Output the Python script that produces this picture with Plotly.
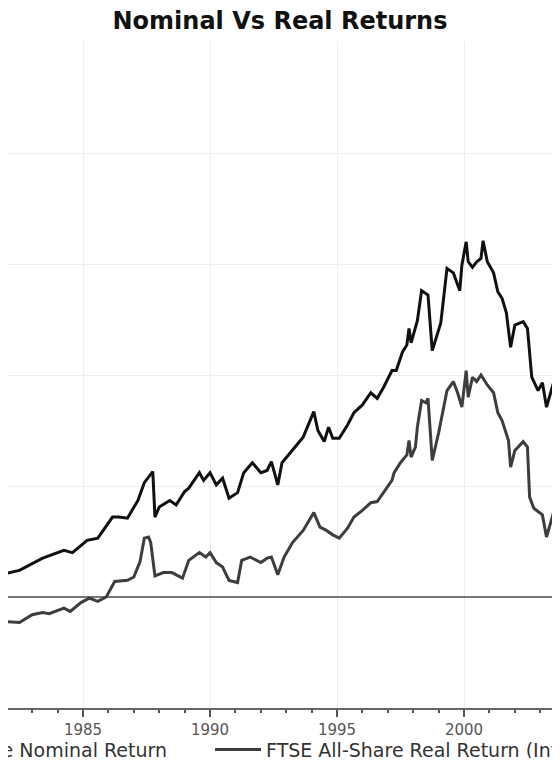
import plotly.graph_objects as go

# -------------------------
# DATA
# -------------------------

nominal_dates = [
    "1981-10", "1982-07", "1983-06", "1984-04", "1984-08", "1985-03", "1985-08",
    "1986-03", "1986-06", "1986-10", "1987-03", "1987-06", "1987-10", "1987-11",
    "1988-01", "1988-06", "1988-09", "1989-01", "1989-03", "1989-08", "1989-10",
    "1990-01", "1990-04", "1990-07", "1990-10", "1991-02", "1991-05", "1991-09",
    "1992-01", "1992-04", "1992-06", "1992-09", "1992-11", "1993-04", "1993-09",
    "1994-02", "1994-04", "1994-07", "1994-09", "1994-11", "1995-02", "1995-06",
    "1995-09", "1996-01", "1996-05", "1996-08", "1996-11", "1997-03", "1997-05",
    "1997-08", "1997-10", "1997-11", "1997-12", "1998-03", "1998-05", "1998-08",
    "1998-10", "1999-02", "1999-05", "1999-08", "1999-11", "1999-12", "2000-02",
    "2000-03", "2000-05", "2000-07", "2000-09", "2000-10", "2000-12", "2001-03",
    "2001-05", "2001-07", "2001-09", "2001-11", "2002-01", "2002-05", "2002-07",
    "2002-09", "2002-12", "2003-02", "2003-04", "2003-07", "2003-09", "2003-11",
    "2004-03",
]
nominal_values = [
    20, 24, 35, 42, 40, 51, 53,
    72, 72, 71, 87, 103, 113, 72,
    81, 87, 83, 95, 98, 112, 105,
    112, 101, 107, 89, 94, 112, 121,
    112, 114, 122, 101, 121, 132, 144,
    167, 150, 140, 153, 143, 143, 155,
    166, 173, 184, 179, 189, 204, 204,
    221, 227, 242, 229, 249, 276, 272,
    222, 247, 296, 292, 276, 299, 320,
    302, 297, 302, 305, 321, 302, 292,
    275, 269, 256, 225, 245, 248, 242,
    198, 186, 193, 171, 191, 202, 209,
    220,
]

real_dates = [
    "1981-10", "1982-04", "1982-07", "1983-01", "1983-06", "1983-09", "1984-04",
    "1984-07", "1984-12", "1985-04", "1985-08", "1985-12", "1986-04", "1986-10",
    "1987-01", "1987-04", "1987-06", "1987-08", "1987-09", "1987-11", "1988-03",
    "1988-07", "1988-12", "1989-03", "1989-08", "1989-11", "1990-01", "1990-04",
    "1990-07", "1990-10", "1991-02", "1991-04", "1991-08", "1992-01", "1992-04",
    "1992-06", "1992-09", "1992-12", "1993-04", "1993-09", "1994-02", "1994-05",
    "1994-08", "1994-11", "1995-02", "1995-06", "1995-09", "1996-01", "1996-05",
    "1996-08", "1996-11", "1997-01", "1997-03", "1997-04", "1997-07", "1997-10",
    "1997-11", "1997-12", "1998-02", "1998-03", "1998-05", "1998-07", "1998-08",
    "1998-10", "1999-01", "1999-05", "1999-08", "1999-10", "1999-12", "2000-02",
    "2000-03", "2000-05", "2000-07", "2000-09", "2000-12", "2001-03", "2001-05",
    "2001-07", "2001-10", "2001-11", "2002-01", "2002-05", "2002-07", "2002-08",
    "2002-10", "2003-02", "2003-04", "2003-07", "2003-09", "2003-11", "2004-03",
]
real_values = [
    -22, -23, -23, -16, -14, -15, -10,
    -13, -5, -1, -4, 0, 14, 15,
    18, 32, 53, 54, 49, 19, 22,
    22, 17, 33, 40, 36, 40, 31,
    27, 15, 13, 33, 36, 31, 35,
    36, 20, 36, 49, 60, 76, 63,
    60, 56, 53, 62, 72, 78, 85,
    86, 94, 99, 105, 112, 121, 128,
    141, 126, 135, 153, 177, 175, 179,
    123, 148, 186, 194, 184, 171, 204,
    180, 198, 194, 200, 191, 184, 166,
    159, 141, 117, 132, 140, 135, 90,
    80, 74, 54, 74, 90, 98, 105,
]

x_range = ["1982-01-18", "2003-10-12"]
y_range = [-100, 500]

# -------------------------
# FIGURE
# -------------------------

fig = go.Figure()
fig.add_trace(go.Scatter(
    x=nominal_dates, y=nominal_values, mode="lines",
    name="FTSE All-Share Nominal Return",
    line=dict(color="#111111", width=3),
    legend="legend",
))
fig.add_trace(go.Scatter(
    x=real_dates, y=real_values, mode="lines",
    name="FTSE All-Share Real Return (Inflation Adjusted)",
    line=dict(color="#3d3d3d", width=3),
    legend="legend2",
))

legend_font = dict(family="DejaVu Sans", size=19, color="#333333")

# the page body adds an 8px offset; keep the page short enough not to scroll
fig.update_layout(
    width=552,
    height=750,
    margin=dict(l=0, r=0, t=34, b=50, autoexpand=False),
    paper_bgcolor="white",
    plot_bgcolor="white",
    title=dict(
        text="<b>Nominal Vs Real Returns</b>",
        x=272 / 552, xanchor="center",
        y=1 - 13 / 750, yanchor="middle", yref="container",
        font=dict(family="DejaVu Sans", size=24, color="#111111"),
    ),
    showlegend=True,
    legend=dict(
        orientation="h",
        x=-0.341, xanchor="left",
        y=-0.034, yanchor="top",
        itemwidth=46,
        font=legend_font,
        bgcolor="rgba(0,0,0,0)",
    ),
    legend2=dict(
        orientation="h",
        x=0.366, xanchor="left",
        y=-0.034, yanchor="top",
        itemwidth=46,
        font=legend_font,
        bgcolor="rgba(0,0,0,0)",
    ),
)

fig.update_xaxes(
    type="date",
    range=x_range,
    tick0="1985-01-01",
    dtick="M60",
    tickformat="%Y",
    ticks="outside",
    ticklen=7,
    tickwidth=2,
    tickcolor="#555555",
    tickfont=dict(family="DejaVu Sans", size=15, color="#555555"),
    showline=True,
    linecolor="#666666",
    linewidth=2,
    showgrid=True,
    gridcolor="#eeeeee",
    gridwidth=1,
    zeroline=False,
    minor=dict(tick0="1985-01-01", dtick="M12", ticks="outside",
               ticklen=3, tickwidth=2, tickcolor="#555555", showgrid=False),
)

fig.update_yaxes(
    range=y_range,
    dtick=100,
    showticklabels=False,
    showgrid=True,
    gridcolor="#eeeeee",
    gridwidth=1,
    showline=False,
    zeroline=True,
    zerolinecolor="#777777",
    zerolinewidth=2,
)

fig.write_html("out.html")
